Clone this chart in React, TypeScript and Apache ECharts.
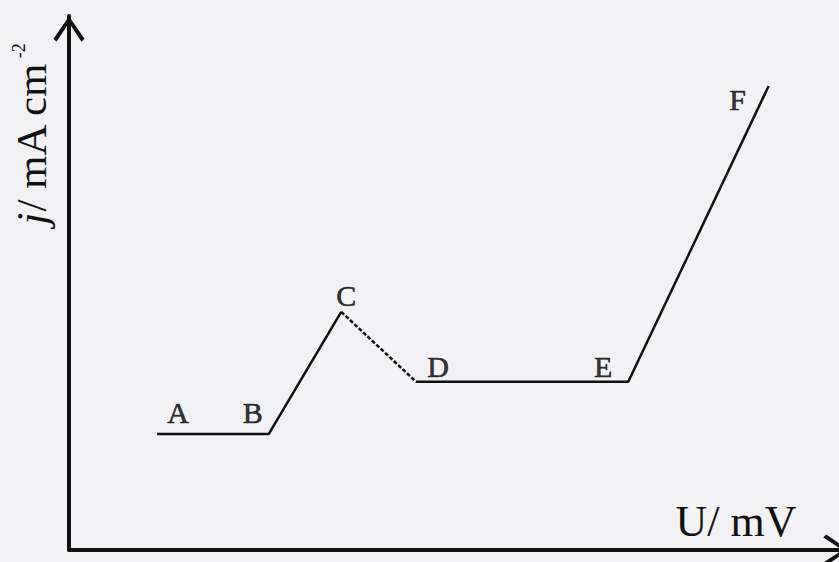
import React, { useEffect, useRef } from "react";
import * as echarts from "echarts";

// Schematic polarisation curve: points A..F (U in arbitrary mV units, j in arbitrary mA cm^-2 units)
const pointNames = ["A", "B", "C", "D", "E", "F"];
const uValues = [11.3, 25.6, 34.9, 44.5, 71.7, 89.7];
const jValues = [21.7, 21.7, 44.6, 31.5, 31.5, 86.9];

// segment index ranges: solid A-B-C, dashed C-D, solid D-E-F
const solidFirst = [0, 1, 2];
const dashedPart = [2, 3];
const solidSecond = [3, 4, 5];

const xAxisName = "U/ mV";
const yAxisNameParts = ["j", "/ mA cm", "-2"];

// label offsets (pixels) relative to each point
const labelOffsets: [number, number][] = [
  [21, -22],
  [-16, -22],
  [5, -16],
  [22, -15],
  [-25, -15],
  [-31, 14],
];

const serif = "'Liberation Serif', 'DejaVu Serif', serif";
const ink = "#111111";
const arrowPath =
  "path://M15.5 0 L31 22.5 L28 25.5 L15.5 6.5 L3 25.5 L0 22.5 Z";

const pts = (idx: number[]) => idx.map((i) => [uValues[i], jValues[i]]);

export default function App() {
  const ref = useRef<HTMLDivElement>(null);

  useEffect(() => {
    if (!ref.current) return;
    const chart = echarts.init(ref.current, undefined, { renderer: "svg" });

    const axisLine = {
      show: true,
      onZero: false,
      symbol: ["none", arrowPath],
      symbolSize: [31, 26],
      symbolOffset: [0, -13],
      lineStyle: { color: ink, width: 4 },
    };

    chart.setOption({
      animation: false,
      backgroundColor: "#f2f2f4",
      grid: {
        left: 69,
        width: 780,
        top: 16,
        height: 534,
        outerBoundsMode: "none",
        containLabel: false,
      },
      xAxis: {
        type: "value",
        min: 0,
        max: 100,
        axisLine,
        axisTick: { show: false },
        axisLabel: { show: false },
        splitLine: { show: false },
      },
      yAxis: {
        type: "value",
        min: 0,
        max: 100,
        axisLine,
        axisTick: { show: false },
        axisLabel: { show: false },
        splitLine: { show: false },
      },
      series: [
        {
          type: "line",
          data: pts(solidFirst),
          symbol: "none",
          lineStyle: { color: ink, width: 2.5 },
        },
        {
          type: "line",
          data: pts(dashedPart),
          symbol: "none",
          lineStyle: { color: ink, width: 2.5, type: [4, 2] },
        },
        {
          type: "line",
          data: pts(solidSecond),
          symbol: "none",
          lineStyle: { color: ink, width: 2.5 },
        },
        {
          type: "scatter",
          symbolSize: 1,
          itemStyle: { color: "rgba(0,0,0,0)" },
          data: pointNames.map((name, i) => ({
            name,
            value: [uValues[i], jValues[i]],
            label: {
              show: true,
              position: "inside",
              offset: labelOffsets[i],
              formatter: name,
              color: "#000",
              textBorderColor: "#000",
              textBorderWidth: 0.6,
              fontFamily: serif,
              fontSize: 30,
              align: "center",
              verticalAlign: "middle",
            },
          })),
        },
      ],
      graphic: [
        {
          type: "text",
          x: 736,
          y: 521,
          style: {
            text: xAxisName,
            fill: ink,
            font: `44px ${serif}`,
            align: "center",
            verticalAlign: "middle",
          },
        },
        {
          type: "text",
          x: 31,
          y: 134,
          rotation: Math.PI / 2,
          style: {
            text: `{i|${yAxisNameParts[0]}}{n|${yAxisNameParts[1]}}{s|${yAxisNameParts[2]}}`,
            fill: ink,
            align: "center",
            verticalAlign: "middle",
            rich: {
              i: { fontFamily: serif, fontSize: 43, fontStyle: "italic", fill: ink },
              n: { fontFamily: serif, fontSize: 43, fill: ink },
              s: {
                fontFamily: serif,
                fontSize: 18,
                fill: ink,
                verticalAlign: "top",
                padding: [0, 0, 0, 4],
              },
            },
          },
        },
      ],
    });

    return () => chart.dispose();
  }, []);

  return (
    <div
      ref={ref}
      style={{ position: "absolute", left: 0, top: 0, width: 839, height: 562 }}
    />
  );
}
